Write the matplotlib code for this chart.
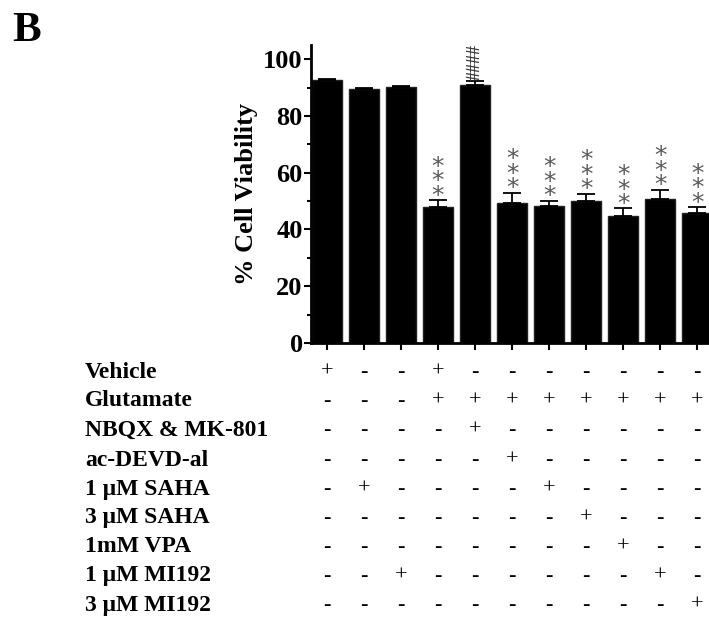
import matplotlib
matplotlib.use("Agg")
import matplotlib.pyplot as plt
import matplotlib.transforms as mtransforms
import numpy as np

# ---- data ----
viability = [92.5, 89.4, 90.1, 47.8, 90.8, 49.5, 48.4, 50.2, 44.8, 50.8, 45.7]
errors = [0.5, 0.5, 0.3, 2.6, 1.6, 3.5, 1.8, 2.4, 2.6, 3.2, 2.2]
marks = ["", "", "", "***", "####", "***", "***", "***", "***", "***", "***"]

row_labels = ["Vehicle", "Glutamate", "NBQX & MK-801", "ac-DEVD-al",
              "1 \u03bcM SAHA", "3 \u03bcM SAHA", "1mM VPA",
              "1 \u03bcM MI192", "3 \u03bcM MI192"]
row_signs = [
    "+--+-------",
    "---++++++++",
    "----+------",
    "-----+-----",
    "-+----+----",
    "-------+---",
    "--------+--",
    "--+------+-",
    "----------+",
]

yticks = [0, 20, 40, 60, 80, 100]

plt.rcParams['font.family'] = ['Liberation Serif', 'DejaVu Serif']

W, H = 709, 618
fig = plt.figure(figsize=(W / 100, H / 100), dpi=100)

ax_left = 311 / W
ax_bottom = 1 - 343 / H
ax_height = (343 - 45) / H
ax = fig.add_axes([ax_left, ax_bottom, 1 - ax_left, ax_height])

x = np.arange(len(viability))
ax.bar(x, viability, width=0.81, color="black", edgecolor="#222222", zorder=2)
ax.errorbar(x, viability, yerr=[np.zeros(len(errors)), errors], fmt="none",
            ecolor="black", elinewidth=1.3, capsize=6.5, capthick=1.3, zorder=3)

for xi, v, e, m in zip(x, viability, errors, marks):
    if m == "***":
        ax.annotate("*\n*\n*", (xi, v + e), xytext=(0, -5.5), textcoords="offset points",
                    ha="center", va="bottom", fontsize=18, color="#5a5a5a",
                    linespacing=0.5, family="DejaVu Sans")
    elif m == "####":
        ax.annotate("####", (xi, v + e), xytext=(0, 0.5), textcoords="offset points",
                    ha="center", va="bottom", fontsize=13, color="#3a3a3a",
                    rotation=90, fontweight="bold")

ax.set_xlim(-0.43, 10.32)
ax.set_ylim(0, 105)
ax.set_yticks(yticks)
ax.set_yticks([10, 30, 50, 70, 90], minor=True)
ax.set_yticklabels([str(t) for t in yticks], fontsize=19, fontweight="bold")
ax.set_xticks(x)
ax.set_xticklabels([])
ax.tick_params(axis="y", which="major", length=5, width=1.5, pad=1)
ax.tick_params(axis="y", which="minor", length=3, width=1.5)
ax.tick_params(axis="x", length=5, width=1.5)
for s in ["top", "right"]:
    ax.spines[s].set_visible(False)
for s in ["left", "bottom"]:
    ax.spines[s].set_linewidth(2)
ax.set_ylabel("% Cell Viability", fontsize=19, fontweight="bold", labelpad=4)

# table below
trans = mtransforms.blended_transform_factory(ax.transData, fig.transFigure)
row_y = [372, 401, 430, 460, 489, 518, 547, 576, 605]
for lab, signs, py in zip(row_labels, row_signs, row_y):
    yf = 1 - py / H
    fig.text(85 / W, yf, lab, ha="left", va="center", fontsize=17, fontweight="bold")
    for xi, s in zip(x, signs):
        fig.text(xi, yf, s, transform=trans, ha="center", va="center",
                 fontsize=16, color="black",
                 fontweight="bold" if s == "-" else "normal")

fig.text(12 / W, 1 - 31 / H, "B", ha="left", va="center", fontsize=31, fontweight="bold")

fig.savefig("out.png", dpi=100)
